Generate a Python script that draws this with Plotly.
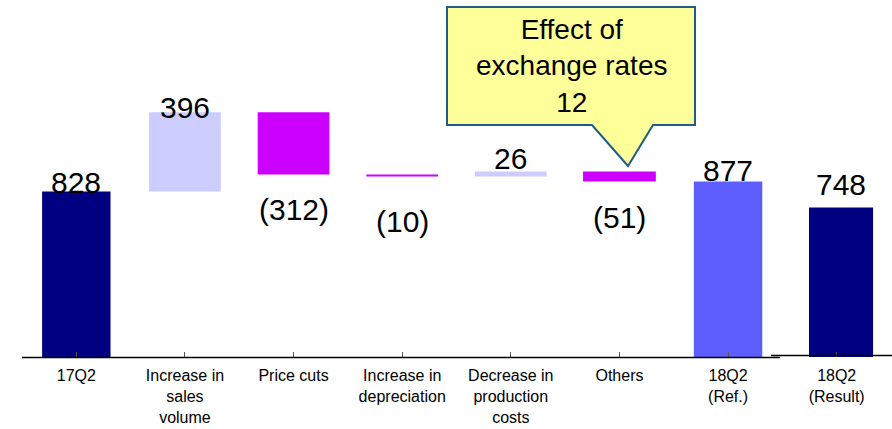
import plotly.graph_objects as go

# ---- data ----
categories = ["17Q2", "Increase in<br>sales<br>volume", "Price cuts", "Increase in<br>depreciation",
              "Decrease in<br>production<br>costs", "Others", "18Q2<br>(Ref.)", "18Q2<br>(Result)"]
values = [828, 396, -312, -10, 26, -51, 877, 748]
kinds = ["total", "delta", "delta", "delta", "delta", "delta", "total", "total"]
label_texts = ["828", "396", "(312)", "(10)", "26", "(51)", "877", "748"]
callout_text = "Effect of<br>exchange rates<br>12"
callout_index = 5

# ---- styles ----
colors = ["#000080", "#CCCCFF", "#CC00FF", "#CC00FF", "#CCCCFF", "#CC00FF", "#5E5EFF", "#000080"]
widths = [0.63, 0.66, 0.66, 0.66, 0.66, 0.67, 0.63, 0.59]
shifts = [0, 0, 0, 0, 0, 0, 0, 0.04]
label_yshift = [-10, -14, -16, -26, -6, -17, -7, 4]

W, H = 892, 429
ML, MR, MT, MB = 22, 1, 7, 72
YMAX = 1750

bases, heights = [], []
running = 0
for v, k in zip(values, kinds):
    if k == "total":
        bases.append(0)
        heights.append(v)
        running = v
    else:
        if v >= 0:
            bases.append(running)
            heights.append(v)
        else:
            bases.append(running + v)
            heights.append(-v)
        running += v

xs = list(range(len(categories)))
offsets = [-w / 2 + s for w, s in zip(widths, shifts)]

fig = go.Figure()
fig.add_trace(go.Bar(
    x=xs, y=heights, base=bases, width=widths, offset=offsets,
    marker=dict(color=colors, line=dict(width=0)),
    hoverinfo="skip", showlegend=False,
))

FONT = "Liberation Sans, Arial, Helvetica, sans-serif"
annotations = []
for i, (v, k, t) in enumerate(zip(values, kinds, label_texts)):
    top = bases[i] + heights[i]
    if v >= 0:
        annotations.append(dict(x=i + shifts[i], y=top, text=t, showarrow=False, yanchor="bottom",
                                xanchor="center", yshift=label_yshift[i],
                                font=dict(size=30, color="black", family=FONT)))
    else:
        annotations.append(dict(x=i + shifts[i], y=bases[i], text=t, showarrow=False, yanchor="top",
                                xanchor="center", yshift=label_yshift[i],
                                font=dict(size=30, color="black", family=FONT)))

# pixel -> paper helpers (for decorative callout / axis lines)
PW = W - ML - MR
PH = H - MT - MB
def px(p):
    return (p - ML) / PW
def py(p):
    return (H - MB - p) / PH

# callout box with pointer
path = (f"M {px(447)},{py(7)} L {px(695)},{py(7)} L {px(695)},{py(125)} "
        f"L {px(653)},{py(125)} L {px(628)},{py(166)} L {px(592)},{py(125)} "
        f"L {px(447)},{py(125)} Z")
shapes = [
    dict(type="path", xref="paper", yref="paper", path=path,
         fillcolor="#FFFF99", line=dict(color="#1F5C8C", width=2), layer="above"),
    dict(type="line", xref="paper", yref="paper", x0=px(22), x1=px(780), y0=py(357.5), y1=py(357.5),
         line=dict(color="black", width=1.5)),
    dict(type="line", xref="paper", yref="paper", x0=px(771), x1=px(892), y0=py(355.5), y1=py(355.5),
         line=dict(color="black", width=1.5)),
]
annotations.append(dict(xref="paper", yref="paper", x=px(571), y=py(66), text=callout_text,
                        showarrow=False, xanchor="center", yanchor="middle",
                        font=dict(size=28, color="black", family=FONT)))

fig.update_layout(
    width=W, height=H,
    margin=dict(l=ML, r=MR, t=MT, b=MB, pad=0, autoexpand=False),
    paper_bgcolor="white", plot_bgcolor="white",
    bargap=0.35,
    shapes=shapes, annotations=annotations,
    xaxis=dict(range=[-0.5, len(categories) - 0.5], tickmode="array", tickvals=xs, ticktext=categories,
               tickson="boundaries", ticks="inside", ticklen=5, tickcolor="#555555", tickwidth=1,
               showline=False, showgrid=False, zeroline=False, ticklabelstandoff=7, automargin=False,
               tickfont=dict(size=16, color="black", family=FONT)),
    yaxis=dict(range=[0, YMAX], visible=False, showgrid=False, zeroline=False, automargin=False),
)

fig.write_html("out.html")
